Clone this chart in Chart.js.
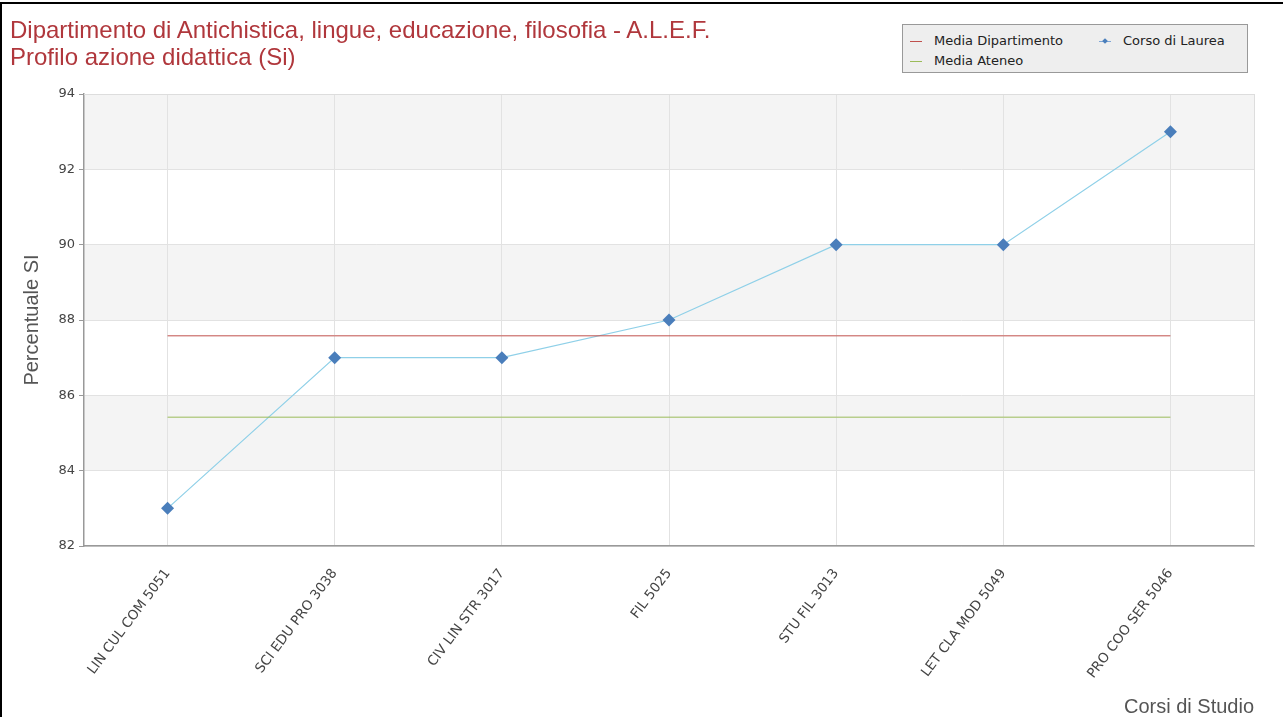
<!DOCTYPE html>
<html>
<head>
<meta charset="utf-8">
<script src="https://cdn.jsdelivr.net/npm/chart.js@4.4.1/dist/chart.umd.min.js"></script>
<style>
  html, body { margin: 0; padding: 0; background: #ffffff; }
  #wrap { position: relative; width: 1283px; height: 717px; overflow: hidden; }
  #frame { position: absolute; left: 0; top: 2px; width: 1283px; height: 720px; border-left: 2px solid #000; border-top: 2px solid #000; box-sizing: border-box; pointer-events: none; }
  #title { position: absolute; left: 10px; top: 16px; font-family: "Liberation Sans", Arial, sans-serif; font-size: 24px; line-height: 27px; color: #b0373c; white-space: nowrap; }
  #legend { position: absolute; left: 902px; top: 24px; width: 346px; height: 49px; box-sizing: border-box; background: #eeeeee; border: 1px solid #999; font-family: "DejaVu Sans", sans-serif; font-size: 13px; line-height: 16px; color: #222; }
  .li { position: absolute; white-space: nowrap; padding-left: 24px; height: 16px; }
  .sw { position: absolute; left: 0; top: 8px; width: 12px; height: 1px; }
  .dia { position: absolute; left: 4px; top: -2px; width: 4px; height: 4px; background: #4a7ebb; transform: rotate(45deg); }
  canvas { position: absolute; left: 0; top: 0; }
</style>
</head>
<body>
<div id="wrap">
  <canvas id="c" width="1283" height="717"></canvas>
  <div id="title">Dipartimento di Antichistica, lingue, educazione, filosofia - A.L.E.F.<br>Profilo azione didattica (Si)</div>
  <div id="legend">
    <div class="li" style="left:7px;top:8px;"><span class="sw" style="background:#c0504d"></span>Media Dipartimento</div>
    <div class="li" style="left:196px;top:8px;"><span class="sw" style="background:#7fa6d6"><span class="dia"></span></span>Corso di Laurea</div>
    <div class="li" style="left:7px;top:28px;"><span class="sw" style="background:#9bbb59"></span>Media Ateneo</div>
  </div>
  <div id="frame"></div>
</div>
<script>
const categories = ["LIN CUL COM 5051", "SCI EDU PRO 3038", "CIV LIN STR 3017", "FIL 5025", "STU FIL 3013", "LET CLA MOD 5049", "PRO COO SER 5046"];
const corsoDiLaurea = [83, 87, 87, 88, 90, 90, 93];
const mediaDipartimento = [87.58, 87.58, 87.58, 87.58, 87.58, 87.58, 87.58];
const mediaAteneo = [85.42, 85.42, 85.42, 85.42, 85.42, 85.42, 85.42];
const yTicks = [82, 84, 86, 88, 90, 92, 94];

const bandsPlugin = {
  id: 'bands',
  beforeDraw(chart) {
    const { ctx, chartArea, scales } = chart;
    const y = scales.y;
    ctx.save();
    ctx.fillStyle = '#f4f4f4';
    for (let i = yTicks.length - 1; i > 0; i -= 2) {
      const top = y.getPixelForValue(yTicks[i]);
      const bot = y.getPixelForValue(yTicks[i - 1]);
      ctx.fillRect(chartArea.left, top, chartArea.right - chartArea.left, bot - top);
    }
    ctx.restore();
  },
  afterDraw(chart) {
    const { ctx, chartArea } = chart;
    ctx.save();
    ctx.strokeStyle = '#dddddd';
    ctx.lineWidth = 1;
    ctx.beginPath();
    ctx.moveTo(Math.round(chartArea.right) + 0.5, chartArea.top);
    ctx.lineTo(Math.round(chartArea.right) + 0.5, chartArea.bottom);
    ctx.moveTo(chartArea.left, Math.round(chartArea.top) + 0.5);
    ctx.lineTo(chartArea.right, Math.round(chartArea.top) + 0.5);
    ctx.stroke();
    ctx.restore();
  }
};

new Chart(document.getElementById('c'), {
  type: 'line',
  data: {
    labels: categories,
    datasets: [
      { label: 'Media Dipartimento', data: mediaDipartimento, borderColor: '#c0504d', borderWidth: 1, pointRadius: 0, fill: false },
      { label: 'Media Ateneo', data: mediaAteneo, borderColor: '#9bbb59', borderWidth: 1, pointRadius: 0, fill: false },
      { label: 'Corso di Laurea', data: corsoDiLaurea, borderColor: '#8fd0e8', borderWidth: 1.2, pointStyle: 'rectRot', pointRadius: 6.5, pointBackgroundColor: '#4a7ebb', pointBorderColor: '#4a7ebb', pointBorderWidth: 0, fill: false }
    ]
  },
  options: {
    responsive: false,
    animation: false,
    layout: { padding: { top: 94, right: 29, left: 0, bottom: 0 } },
    plugins: { legend: { display: false }, title: { display: false }, tooltip: { enabled: false } },
    scales: {
      x: {
        offset: true,
        grid: { offset: false, color: '#e2e2e2', drawTicks: false },
        border: { color: '#999999', width: 1.5 },
        ticks: { minRotation: 53, maxRotation: 53, padding: 20, color: '#444', font: { family: 'DejaVu Sans', size: 13.5 } },
        title: { display: true, text: 'Corsi di Studio', align: 'end', color: '#555', font: { family: 'Liberation Sans', size: 20, lineHeight: 1.0 }, padding: { top: 0, bottom: 0 } },
        afterFit(scale) { scale.height = 171; }
      },
      y: {
        min: 82, max: 94,
        afterBuildTicks(scale) { scale.ticks = yTicks.map(v => ({ value: v })); },
        grid: { color: '#e2e2e2', tickLength: 5, tickColor: '#999' },
        border: { color: '#999999', width: 1.5 },
        ticks: { color: '#444', padding: 4, font: { family: 'DejaVu Sans', size: 13 } },
        title: { display: true, text: 'Percentuale SI', color: '#555', font: { family: 'Liberation Sans', size: 20 }, padding: { top: 20, bottom: 0 } },
        afterFit(scale) { scale.width = 84; }
      }
    }
  },
  plugins: [bandsPlugin]
});
</script>
</body>
</html>
